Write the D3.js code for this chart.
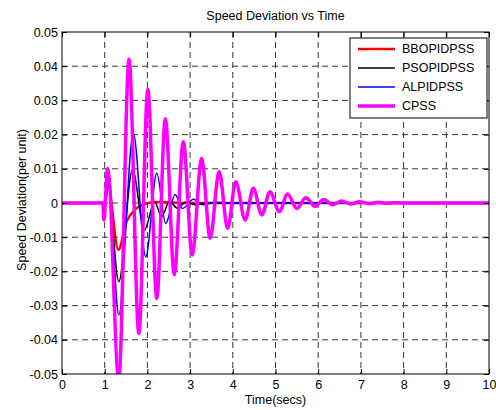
<!DOCTYPE html>
<html>
<head>
<meta charset="utf-8">
<script src="https://cdn.jsdelivr.net/npm/d3@7"></script>
<style>
  html, body { margin: 0; padding: 0; background: #fff; overflow: hidden; }
  svg { display: block; }
  text { font-family: "Liberation Sans", Arial, sans-serif; }
</style>
</head>
<body>
<div id="plot"></div>
<script>
// Data (time in secs, deviation in per unit)
const seriesNames = ["BBOPIDPSS", "PSOPIDPSS", "ALPIDPSS", "CPSS"];

const tRed = [0, 1.0, 1.1, 1.16, 1.32, 1.51, 1.7, 1.9, 2.2, 3.0, 10];
const vRed = [0, 0, 0.007, 0, -0.0137, -0.0055, -0.002, -0.0005, 0.0003, 0, 0];

const tBlack = [0, 1.0, 1.08, 1.14, 1.33, 1.65, 1.93, 2.17, 2.33, 2.52, 2.7, 2.9, 3.1, 3.5, 10];
const vBlack = [0, 0, 0.007, 0, -0.023, 0.0097, -0.0079, 0.0004, -0.004, 0.0005, -0.0015, 0.0003, -0.0005, 0, 0];

const tBlue = [0, 1.0, 1.08, 1.14, 1.33, 1.67, 1.96, 2.22, 2.43, 2.65, 2.82, 3.08, 3.3, 3.6, 4.0, 10];
const vBlue = [0, 0, 0.007, 0, -0.0327, 0.0204, -0.0157, 0.0087, -0.006, 0.0025, -0.0016, 0.0011, -0.0005, 0.0002, 0, 0];

const tMag = [0, 0.96, 0.98, 1.07, 1.33, 1.57, 1.80, 2.01, 2.22, 2.42, 2.63, 2.84, 3.05, 3.27, 3.47,
  3.68, 3.88, 4.07, 4.29, 4.48, 4.68, 4.87, 5.09, 5.28, 5.50, 5.71, 5.93, 6.13, 6.34, 6.55,
  6.76, 6.97, 7.2, 7.4, 7.6, 7.8, 8.0, 10];
const vMag = [0, 0, -0.005, 0.0101, -0.0515, 0.042, -0.0381, 0.0332, -0.0279, 0.0246, -0.021, 0.0179, -0.0152, 0.013, -0.0103,
  0.0092, -0.0074, 0.0062, -0.005, 0.0043, -0.0035, 0.0033, -0.0025, 0.0026, -0.0016, 0.0015, -0.001, 0.001, -0.0005, 0.0006,
  -0.0003, 0.0004, -0.0002, 0.0002, -0.0001, 0.0001, 0, 0];

const xTicks = [0, 1, 2, 3, 4, 5, 6, 7, 8, 9, 10];
const xTickLabels = ["0", "1", "2", "3", "4", "5", "6", "7", "8", "9", "10"];
const yTicks = [-0.05, -0.04, -0.03, -0.02, -0.01, 0, 0.01, 0.02, 0.03, 0.04, 0.05];
const yTickLabels = ["-0.05", "-0.04", "-0.03", "-0.02", "-0.01", "0", "0.01", "0.02", "0.03", "0.04", "0.05"];

// Width and height
const w = 496;
const h = 410;
const margin = {top: 32, right: 7, bottom: 36, left: 62};
const innerWidth = w - margin.left - margin.right;
const innerHeight = h - margin.top - margin.bottom;
const fontSize = 12.5;

const svg = d3.select("div#plot")
  .append("svg")
    .attr("width", w)
    .attr("height", h);

svg.append("rect")
  .attr("width", w)
  .attr("height", h)
  .attr("fill", "#fff");

const g = svg.append("g")
  .attr("transform", `translate(${margin.left}, ${margin.top})`);

const xScale = d3.scaleLinear()
  .domain([0, 10])
  .range([0, innerWidth]);

const yScale = d3.scaleLinear()
  .domain([-0.05, 0.05])
  .range([innerHeight, 0]);

// dashed grid
g.append("g")
  .selectAll("line")
  .data(xTicks.slice(1, -1))
  .enter()
  .append("line")
    .attr("x1", d => xScale(d))
    .attr("x2", d => xScale(d))
    .attr("y1", 0)
    .attr("y2", innerHeight)
    .attr("stroke", "#333")
    .attr("stroke-dasharray", "6,4");

g.append("g")
  .selectAll("line")
  .data(yTicks.slice(1, -1))
  .enter()
  .append("line")
    .attr("x1", 0)
    .attr("x2", innerWidth)
    .attr("y1", d => yScale(d))
    .attr("y2", d => yScale(d))
    .attr("stroke", "#333")
    .attr("stroke-dasharray", "6,4");

// clip for the curves
svg.append("clipPath")
  .attr("id", "clip")
  .append("rect")
    .attr("width", innerWidth)
    .attr("height", innerHeight);

const line = d3.line()
  .x(d => xScale(d[0]))
  .y(d => yScale(d[1]))
  .curve(d3.curveMonotoneX);

const series = [
  {name: seriesNames[0], t: tRed, v: vRed, color: "#ff0000", width: 2.5},
  {name: seriesNames[1], t: tBlack, v: vBlack, color: "#000000", width: 1.5},
  {name: seriesNames[2], t: tBlue, v: vBlue, color: "#0000ff", width: 1.5},
  {name: seriesNames[3], t: tMag, v: vMag, color: "#ff00ff", width: 3.5}
];

g.append("g")
  .attr("clip-path", "url(#clip)")
  .selectAll("path")
  .data(series)
  .enter()
  .append("path")
    .attr("d", s => line(s.t.map((t, i) => [t, s.v[i]])))
    .attr("fill", "none")
    .attr("stroke", s => s.color)
    .attr("stroke-width", s => s.width)
    .attr("stroke-linejoin", "round");

// axes, ticks pointing inside
const xAxis = d3.axisBottom(xScale)
  .tickValues(xTicks)
  .tickFormat((d, i) => xTickLabels[i])
  .tickSizeInner(-5)
  .tickSizeOuter(0)
  .tickPadding(6);

const yAxis = d3.axisLeft(yScale)
  .tickValues(yTicks)
  .tickFormat((d, i) => yTickLabels[i])
  .tickSizeInner(-5)
  .tickSizeOuter(0)
  .tickPadding(4);

g.append("g")
  .attr("transform", `translate(0, ${innerHeight})`)
  .call(xAxis)
  .attr("font-size", fontSize)
  .attr("font-family", "'Liberation Sans', Arial, sans-serif");

g.append("g")
  .call(yAxis)
  .attr("font-size", fontSize)
  .attr("font-family", "'Liberation Sans', Arial, sans-serif");

const topAxis = g.append("g")
  .call(d3.axisTop(xScale).tickValues(xTicks).tickSizeInner(-5).tickSizeOuter(0));
topAxis.selectAll("text").remove();

const rightAxis = g.append("g")
  .attr("transform", `translate(${innerWidth}, 0)`)
  .call(d3.axisRight(yScale).tickValues(yTicks).tickSizeInner(-5).tickSizeOuter(0));
rightAxis.selectAll("text").remove();

g.selectAll(".domain").remove();
g.selectAll(".tick line").attr("stroke", "#000");
g.selectAll(".tick text").attr("fill", "#000");

// box
g.append("rect")
  .attr("width", innerWidth)
  .attr("height", innerHeight)
  .attr("fill", "none")
  .attr("stroke", "#000")
  .attr("stroke-width", 1);

// title and labels
svg.append("text")
  .attr("x", margin.left + innerWidth / 2)
  .attr("y", 20)
  .attr("text-anchor", "middle")
  .attr("font-size", fontSize)
  .text("Speed Deviation vs Time");

svg.append("text")
  .attr("x", margin.left + innerWidth / 2)
  .attr("y", 404)
  .attr("text-anchor", "middle")
  .attr("font-size", fontSize)
  .text("Time(secs)");

svg.append("text")
  .attr("transform", `translate(26, ${margin.top + innerHeight / 2 - 3}) rotate(-90)`)
  .attr("text-anchor", "middle")
  .attr("font-size", fontSize)
  .text("Speed Deviation(per unit)");

// legend
const legend = svg.append("g")
  .attr("transform", "translate(350, 38)");

legend.append("rect")
  .attr("width", 137)
  .attr("height", 80)
  .attr("fill", "#fff")
  .attr("stroke", "#000");

const item = legend.selectAll("g.item")
  .data(series)
  .enter()
  .append("g")
    .attr("class", "item")
    .attr("transform", (d, i) => `translate(0, ${11 + i * 19})`);

item.append("line")
  .attr("x1", 8)
  .attr("x2", 45)
  .attr("stroke", d => d.color)
  .attr("stroke-width", d => d.width);

item.append("text")
  .attr("x", 52)
  .attr("dy", "0.35em")
  .attr("font-size", fontSize)
  .text(d => d.name);
</script>
</body>
</html>
